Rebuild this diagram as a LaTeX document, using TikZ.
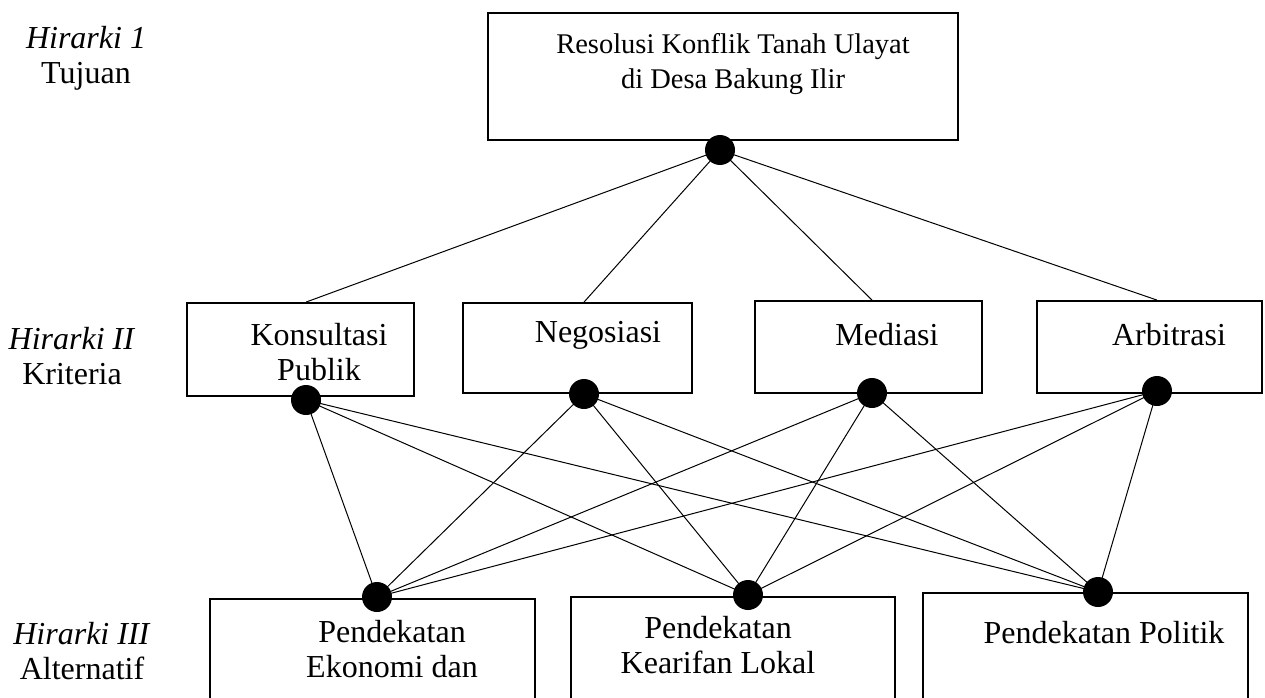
\documentclass[tikz,border=0pt]{standalone}
\usepackage{fontspec}
\setmainfont{Liberation Serif}
\usetikzlibrary{backgrounds}
\tikzset{
  box/.style={draw, line width=1.8pt, inner sep=0pt},
  dot/.style={circle, fill=black, inner sep=0pt, minimum size=30pt},
  txt/.style={align=center, font=\fontsize{32}{35}\selectfont, inner sep=0pt},
  link/.style={line width=1pt}
}
\begin{document}
\begin{tikzpicture}[x=1pt, y=-1pt]
        \clip (0,0) rectangle (1265,698);

        % Hierarchy labels on the left
        \node[txt] (h1) at (86,58) {\textit{Hirarki 1}\\Tujuan};
        \node[txt] (h2) at (72,356) {\textit{Hirarki II}\\Kriteria};
        \node[txt] (h3) at (82,651) {\textit{Hirarki III}\\Alternatif};

        % Goal
        \node[box, minimum width=470pt, minimum height=127pt] (goal) at (723,76.5) {};
        \node[txt, font=\fontsize{28.5}{35}\selectfont] (goaltxt) at (733,64) {Resolusi Konflik Tanah Ulayat\\di Desa Bakung Ilir};

        % Criteria
        \node[box, minimum width=227pt, minimum height=93pt] (kons) at (300.5,349.5) {};
        \node[box, minimum width=229pt, minimum height=90pt] (nego) at (577.5,348) {};
        \node[box, minimum width=227pt, minimum height=92pt] (medi) at (868.5,347) {};
        \node[box, minimum width=225pt, minimum height=92pt] (arbi) at (1149.5,347) {};
        \node[txt] (konstxt) at (319,352) {Konsultasi\\Publik};
        \node[txt] (negotxt) at (598,335) {Negosiasi};
        \node[txt] (meditxt) at (887,335) {Mediasi};
        \node[txt] (arbitxt) at (1169,335) {Arbitrasi};

        % Alternatives (cut off at the bottom)
        \node[box, minimum width=325pt, minimum height=130pt] (ekon) at (372.5,664) {};
        \node[box, minimum width=324pt, minimum height=133pt] (lokal) at (733,663.5) {};
        \node[box, minimum width=325pt, minimum height=137pt] (poli) at (1085.5,661.5) {};
        \node[txt] (ekontxt) at (392,649) {Pendekatan\\Ekonomi dan};
        \node[txt] (lokaltxt) at (718,645) {Pendekatan\\Kearifan Lokal};
        \node[txt] (politxt) at (1104,633) {Pendekatan Politik};

        % Joints
        \node[dot] (goaldot) at (720,150) {};
        \node[dot] (konsdot) at (306,400) {};
        \node[dot] (negodot) at (584,394) {};
        \node[dot] (medidot) at (872,393) {};
        \node[dot] (arbidot) at (1157,391) {};
        \node[dot] (ekondot) at (377,597) {};
        \node[dot] (lokaldot) at (748,595) {};
        \node[dot] (polidot) at (1098,592) {};

        \begin{pgfonlayer}{background}
        % Goal to criteria
        \foreach \c in {kons,nego,medi,arbi}
          \draw[link] (goaldot.center) -- (\c dot |- \c.north);

        % Criteria to alternatives
        \foreach \c in {kons,nego,medi,arbi}
          \foreach \a in {ekon,lokal,poli}
            \draw[link] (\c dot.center) -- (\a dot.center);
        \end{pgfonlayer}
\end{tikzpicture}
\end{document}
